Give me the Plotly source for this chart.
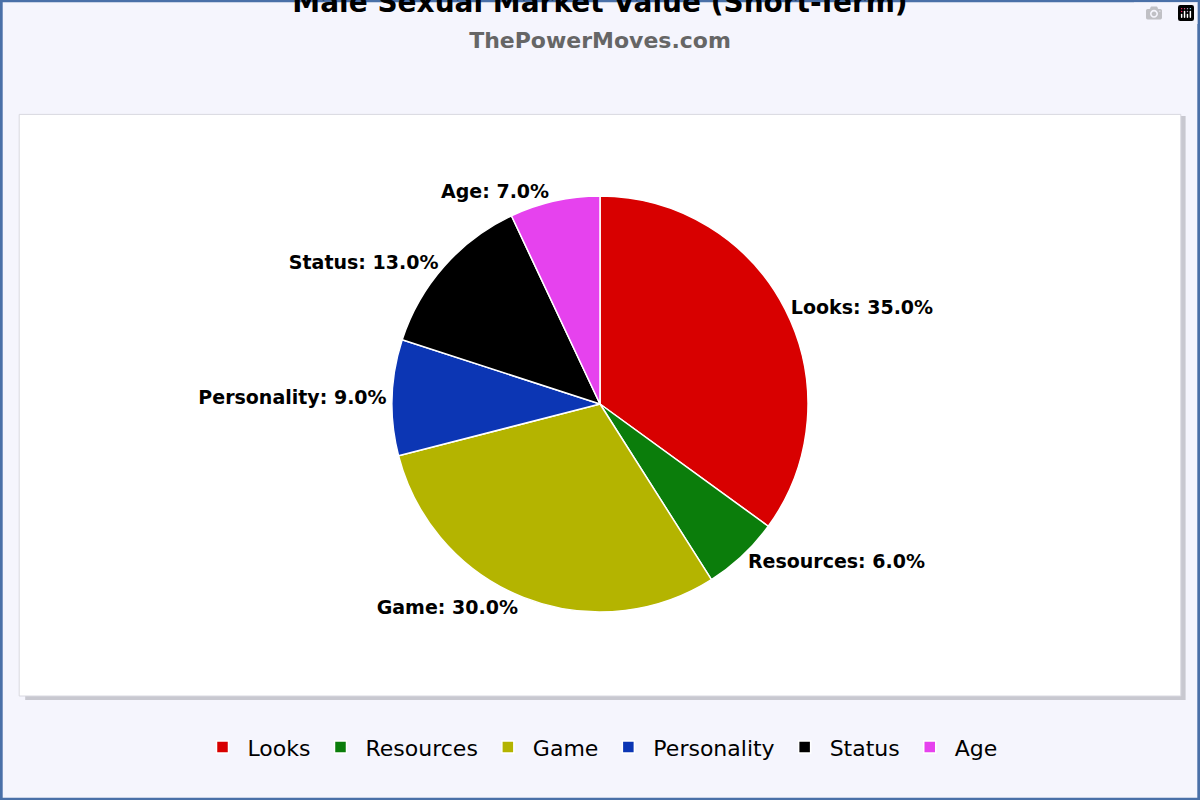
import plotly.graph_objects as go

labels = ["Looks", "Resources", "Game", "Personality", "Status", "Age"]
values = [35.0, 6.0, 30.0, 9.0, 13.0, 7.0]
colors = ["#d80000", "#0b7d0b", "#b4b400", "#0c36b4", "#000000", "#e642ee"]
title = "Male Sexual Market Value (Short-Term)"
subtitle = "ThePowerMoves.com"

fig = go.Figure(go.Pie(
    labels=labels, values=values, sort=False, direction="clockwise", rotation=0,
    marker=dict(colors=colors, line=dict(color="white", width=1.5)),
    texttemplate="<b>%{label}: %{percent:.1%}</b>", textposition="outside",
    textfont=dict(family="DejaVu Sans", size=19, color="black"),
    outsidetextfont=dict(family="DejaVu Sans", size=19, color="black"),
    domain=dict(x=[0.2, 0.8], y=[0.235, 0.755]),
    automargin=False, hoverinfo="label+percent",
))
fig.update_layout(
    width=1200, height=800, margin=dict(l=0, r=0, t=0, b=0),
    paper_bgcolor="#f5f5fd", plot_bgcolor="#f5f5fd",
    title=dict(text=f"<b>{title}</b><br><span style='font-size:22px;color:#666'><b>{subtitle}</b></span>",
               x=0.5, y=0.985, yanchor="top", xanchor="center",
               font=dict(family="DejaVu Sans", size=28, color="black")),
    legend=dict(orientation="h", x=0.5, xanchor="center", y=0.066, yanchor="middle",
                font=dict(family="DejaVu Sans", size=22, color="black"),
                itemwidth=40, bgcolor="rgba(0,0,0,0)"),
    shapes=[
        dict(type="rect", xref="paper", yref="paper", x0=0.021, x1=0.988, y0=0.125, y1=0.855,
             fillcolor="#c8c8d0", line=dict(width=0), layer="below"),
        dict(type="rect", xref="paper", yref="paper", x0=0.016, x1=0.984, y0=0.13, y1=0.857,
             fillcolor="white", line=dict(color="#d8d8e0", width=1), layer="below"),
        dict(type="rect", xref="paper", yref="paper", x0=0.001, x1=0.999, y0=0.001, y1=0.999,
             fillcolor="rgba(0,0,0,0)", line=dict(color="#4a70a8", width=3), layer="above"),
    ],
)
fig.write_html("out.html", post_script="document.body.style.margin='0';document.body.style.overflow='hidden';")
